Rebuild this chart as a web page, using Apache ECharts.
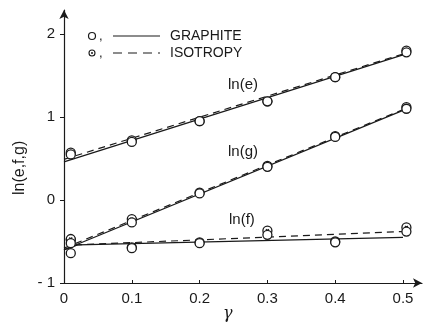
<!DOCTYPE html>
<html>
<head>
<meta charset="utf-8">
<script src="https://cdn.jsdelivr.net/npm/echarts@6/dist/echarts.min.js"></script>
<style>
  html, body { margin: 0; padding: 0; background: #fff; }
  #chart { width: 423px; height: 325px; }
</style>
</head>
<body>
<div id="chart"></div>
<script>
// measured points (gamma)
const gammaPts = [0.01, 0.1, 0.2, 0.3, 0.4, 0.505];

// open circles: graphite
const graphiteE = [0.55, 0.70, 0.95, 1.19, 1.48, 1.78];
const graphiteG = [-0.52, -0.27, 0.08, 0.40, 0.76, 1.10];
const graphiteF = [-0.64, -0.58, -0.52, -0.42, -0.51, -0.38];

// dotted circles: isotropy
const isoE = [0.57, 0.72, 0.95, 1.19, 1.48, 1.80];
const isoG = [-0.48, -0.23, 0.09, 0.41, 0.77, 1.12];
const isoF = [-0.47, -0.57, -0.51, -0.37, -0.50, -0.33];

// fitted curves
const fitGamma = [0, 0.5];
const fitGammaF = [0, 0.02, 0.5];
const fitGraphiteE = [0.46, 1.75];
const fitIsoE = [0.49, 1.76];
const fitGraphiteG = [-0.60, 1.08];
const fitIsoG = [-0.58, 1.09];
const fitGraphiteF = [-0.60, -0.54, -0.45];
const fitIsoF = [-0.60, -0.54, -0.38];

const xTicks = [0, 0.1, 0.2, 0.3, 0.4, 0.5];
const yTicks = [-1, 0, 1, 2];

const ink = '#1a1a1a';
const font = 'Liberation Sans';
const pairs = (xs, ys) => xs.map((x, i) => [x, ys[i]]);
const isoSymbol = 'path://M0,-5A5,5,0,1,1,0,5A5,5,0,1,1,0,-5ZM-1.6,-1.6L1.6,1.6M1.6,-1.6L-1.6,1.6';

function fitLine(name, xs, ys, type) {
  return {
    name, type: 'line', data: pairs(xs, ys), symbol: 'none', silent: true,
    lineStyle: { color: ink, width: 1.2, type: type }, z: 2
  };
}
function points(name, ys, symbol) {
  return {
    name, type: 'scatter', data: pairs(gammaPts, ys), symbol: symbol, symbolSize: 9,
    itemStyle: { color: '#fff', borderColor: ink, borderWidth: 1.3, opacity: 1 }, z: 3
  };
}

const chart = echarts.init(document.getElementById('chart'));
chart.setOption({
  animation: false,
  backgroundColor: '#fff',
  grid: { left: 64, right: 1, top: 10, bottom: 42 },
  xAxis: {
    type: 'value', min: 0, max: 0.528, interval: 0.1,
    axisLine: { show: true, onZero: false, symbol: ['none', 'arrow'], symbolSize: [7, 9], lineStyle: { color: ink, width: 1.2 } },
    axisTick: { show: true, inside: true, length: 3, customValues: xTicks, lineStyle: { color: ink } },
    axisLabel: { customValues: xTicks, margin: 8, color: ink, fontSize: 15, fontFamily: font,
      formatter: v => v === 0 ? '0' : v.toFixed(1) },
    splitLine: { show: false }
  },
  yAxis: {
    type: 'value', min: -1, max: 2.29, interval: 1,
    axisLine: { show: true, onZero: false, symbol: ['none', 'arrow'], symbolSize: [7, 9], lineStyle: { color: ink, width: 1.2 } },
    axisTick: { show: true, length: 4, customValues: yTicks, lineStyle: { color: ink } },
    axisLabel: { customValues: yTicks, margin: 9, color: ink, fontSize: 15, fontFamily: font,
      formatter: v => v < 0 ? '- ' + Math.abs(v) : String(v) },
    splitLine: { show: false }
  },
  graphic: [
    // legend
    { type: 'circle', shape: { cx: 92, cy: 36, r: 3.5 }, style: { fill: '#fff', stroke: ink, lineWidth: 1.2 } },
    { type: 'text', x: 99, y: 30, style: { text: ',', fontSize: 13, fontFamily: font, fill: ink } },
    { type: 'line', shape: { x1: 113, y1: 36, x2: 160, y2: 36 }, style: { stroke: ink, lineWidth: 1.2 } },
    { type: 'text', x: 170, y: 29, style: { text: 'GRAPHITE', fontSize: 14, fontFamily: font, fill: ink } },
    { type: 'circle', shape: { cx: 92, cy: 53, r: 3 }, style: { fill: '#fff', stroke: ink, lineWidth: 1.1 } },
    { type: 'circle', shape: { cx: 92, cy: 53, r: 1 }, style: { fill: ink } },
    { type: 'text', x: 99, y: 47, style: { text: ',', fontSize: 13, fontFamily: font, fill: ink } },
    { type: 'line', shape: { x1: 113, y1: 53, x2: 160, y2: 53 }, style: { stroke: ink, lineWidth: 1.2, lineDash: [9, 6] } },
    { type: 'text', x: 170, y: 46, style: { text: 'ISOTROPY', fontSize: 14, fontFamily: font, fill: ink } },
    // curve labels
    { type: 'text', x: 228, y: 77, style: { text: 'ln(e)', fontSize: 15, fontFamily: font, fill: ink } },
    { type: 'text', x: 228, y: 144, style: { text: 'ln(g)', fontSize: 15, fontFamily: font, fill: ink } },
    { type: 'text', x: 229, y: 212, style: { text: 'ln(f)', fontSize: 15, fontFamily: font, fill: ink } },
    // axis names
    { type: 'text', x: 12, y: 195, rotation: Math.PI / 2, style: { text: 'ln(e,f,g)', fontSize: 16, fontFamily: font, fill: ink } },
    { type: 'text', x: 223, y: 306, style: { text: 'γ', fontSize: 16, fontFamily: 'DejaVu Serif', fontStyle: 'italic', fill: ink } }
  ],
  series: [
    fitLine('GRAPHITE ln(e)', fitGamma, fitGraphiteE, 'solid'),
    fitLine('ISOTROPY ln(e)', fitGamma, fitIsoE, [7, 5]),
    fitLine('GRAPHITE ln(g)', fitGamma, fitGraphiteG, 'solid'),
    fitLine('ISOTROPY ln(g)', fitGamma, fitIsoG, [7, 5]),
    fitLine('GRAPHITE ln(f)', fitGammaF, fitGraphiteF, 'solid'),
    fitLine('ISOTROPY ln(f)', fitGammaF, fitIsoF, [7, 5]),
    points('ISOTROPY e', isoE, isoSymbol),
    points('ISOTROPY g', isoG, isoSymbol),
    points('ISOTROPY f', isoF, isoSymbol),
    points('GRAPHITE e', graphiteE, 'circle'),
    points('GRAPHITE g', graphiteG, 'circle'),
    points('GRAPHITE f', graphiteF, 'circle')
  ]
});
</script>
</body>
</html>
